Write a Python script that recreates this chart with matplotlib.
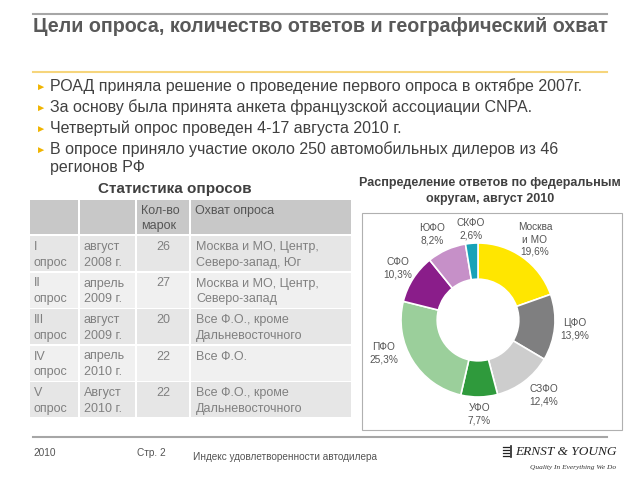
import math

import matplotlib
matplotlib.use("Agg")
import matplotlib.pyplot as plt
from matplotlib.patches import Rectangle

plt.rcParams["font.family"] = ["Liberation Sans", "DejaVu Sans"]

title = "Цели опроса, количество ответов и географический охват"
bullets = [
    "РОАД приняла решение о проведение первого опроса в октябре 2007г.",
    "За основу была принята анкета французской ассоциации CNPA.",
    "Четвертый опрос проведен 4-17 августа 2010 г.",
    "В опросе приняло участие около 250 автомобильных дилеров из 46\nрегионов РФ",
]

table_title = "Статистика опросов"
header = ["", "", "Кол-во\nмарок", "Охват опроса"]
surveys = ["I\nопрос", "II\nопрос", "III\nопрос", "IV\nопрос", "V\nопрос"]
dates = ["август\n2008 г.", "апрель\n2009 г.", "август\n2009 г.", "апрель\n2010 г.", "Август\n2010 г."]
brands = [26, 27, 20, 22, 22]
coverage = [
    "Москва и МО, Центр,\nСеверо-запад, Юг",
    "Москва и МО, Центр,\nСеверо-запад",
    "Все Ф.О., кроме\nДальневосточного",
    "Все Ф.О.",
    "Все Ф.О., кроме\nДальневосточного",
]

donut_title = "Распределение ответов по федеральным\nокругам, август 2010"
districts = ["Москва\nи МО", "ЦФО", "СЗФО", "УФО", "ПФО", "СФО", "ЮФО", "СКФО"]
shares = [19.6, 13.9, 12.4, 7.7, 25.3, 10.3, 8.2, 2.6]
colors = ["#ffe600", "#7f7f80", "#cdcdcd", "#2f9a3c", "#9bcf9b", "#8a1d8a", "#c690c8", "#17a2b8"]

footer_year = "2010"
footer_page = "Стр. 2"
footer_text = "Индекс удовлетворенности автодилера"

fig = plt.figure(figsize=(6.4, 4.8), dpi=100)
ax = fig.add_axes([0, 0, 1, 1])
ax.set_xlim(0, 640)
ax.set_ylim(480, 0)
ax.axis("off")

# header lines and title
ax.plot([33, 607], [14, 14], color="#a6a6a6", lw=1.5)
ax.text(33, 26, title, fontsize=14.2, fontweight="bold", color="#595959", va="center", ha="left")
ax.plot([33, 607], [72, 72], color="#f6d57c", lw=1.5)

# bullets
y = 87
for b in bullets:
    ax.text(36, y, "►", fontsize=7.5, color="#f0b400", va="center", ha="left")
    ax.text(50, y - 9, b, fontsize=11.5, color="#404040", va="top", ha="left", linespacing=1.25)
    y += 21

# table
ax.text(175, 189, table_title, fontsize=11, fontweight="bold", color="#404040", ha="center", va="center")
col_x = [30, 80, 137, 191]
col_w = [48, 55, 52, 160]
head_top, head_h = 200, 34
row_top0, row_h, gap = 236, 35, 1.5
for cx, cw, h in zip(col_x, col_w, header):
    ax.add_patch(Rectangle((cx, head_top), cw, head_h, facecolor="#c8c8c8", edgecolor="none"))
    if h:
        ax.text(cx + 4, head_top + 5, h, fontsize=9, color="#555555", va="top", ha="left", linespacing=1.35)
row_colors = ["#e6e6e6", "#f0f0f0"]
for i in range(len(surveys)):
    top = row_top0 + i * (row_h + gap)
    for cx, cw in zip(col_x, col_w):
        ax.add_patch(Rectangle((cx, top), cw, row_h, facecolor=row_colors[i % 2], edgecolor="none"))
    txt = dict(fontsize=9, color="#808080", va="top", linespacing=1.4)
    ax.text(col_x[0] + 4, top + 5, surveys[i], ha="left", **txt)
    ax.text(col_x[1] + 4, top + 5, dates[i], ha="left", **txt)
    ax.text(col_x[2] + col_w[2] / 2, top + 5, str(brands[i]), ha="center", **txt)
    ax.text(col_x[3] + 5, top + 5, coverage[i], ha="left", **txt)

# donut panel
ax.text(490, 191, donut_title, fontsize=9, fontweight="bold", color="#404040", ha="center", va="center", linespacing=1.4)
ax.add_patch(Rectangle((362, 213), 260, 217, facecolor="white", edgecolor="#b0b0b0", lw=0.8))

cx, cy, r = 478, 320, 77
pax = fig.add_axes([(cx - r) / 640, (480 - cy - r) / 480, 2 * r / 640, 2 * r / 480])
wedges, _ = pax.pie(shares, colors=colors, startangle=90, counterclock=False,
                    wedgeprops=dict(width=0.47, edgecolor="white", linewidth=1.2))
pax.set_xlim(-1, 1)
pax.set_ylim(-1, 1)
pax.set_aspect("equal")
pax.axis("off")

label_dist = [1.28, 1.26, 1.3, 1.22, 1.3, 1.24, 1.26, 1.18]
label_shift = [0, 0, 4, 0, -12, 0, 4, 0]
for w, name, s, d, sh in zip(wedges, districts, shares, label_dist, label_shift):
    ang = math.radians((w.theta1 + w.theta2) / 2 + sh)
    lx = cx + d * r * math.cos(ang)
    ly = cy - d * r * math.sin(ang)
    lab = f"{name}\n{s:.1f}%".replace(".", ",")
    ax.text(lx, ly, lab, fontsize=7.3, color="#555555", ha="center", va="center", linespacing=1.3)

# footer
ax.plot([33, 607], [437, 437], color="#a6a6a6", lw=1.5)
ax.text(33, 453, footer_year, fontsize=7.3, color="#555555", va="center", ha="left")
ax.text(137, 453, footer_page, fontsize=7.3, color="#555555", va="center", ha="left")
ax.text(193, 457, footer_text, fontsize=7.2, color="#555555", va="center", ha="left")

# logo
for dy in (447, 450, 453, 456):
    ax.plot([503, 509], [dy, dy], color="#222222", lw=0.9)
ax.plot([511, 511], [446, 457], color="#222222", lw=1.2)
ax.text(515, 452, "ERNST & YOUNG", fontsize=9.6, family="Liberation Serif", style="italic",
        color="#222222", va="center", ha="left")
ax.text(616, 467, "Quality In Everything We Do", fontsize=5.3, family="Liberation Serif", style="italic",
        color="#333333", va="center", ha="right")

fig.savefig("out.png", dpi=100)
